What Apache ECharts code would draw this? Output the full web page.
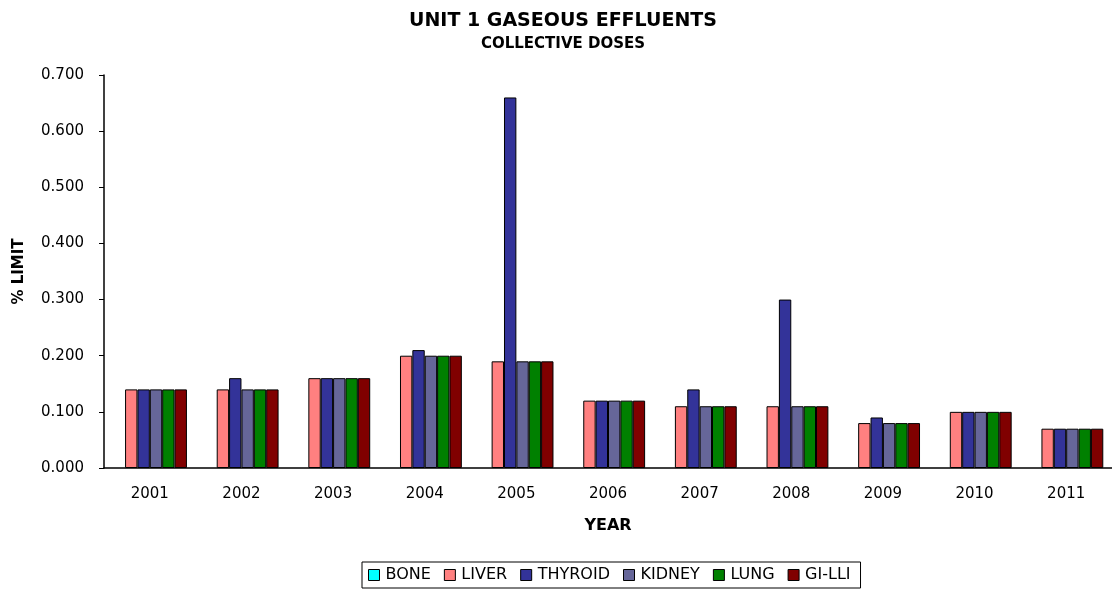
<!DOCTYPE html>
<html>
<head>
<meta charset="utf-8">
<script src="https://cdn.jsdelivr.net/npm/echarts@6/dist/echarts.min.js"></script>
<style>
  html, body { margin: 0; padding: 0; background: #fff; }
  #myChart { width: 1112px; height: 589px; }
</style>
</head>
<body>
<div id="myChart"></div>
<script>
// data
const years = ["2001", "2002", "2003", "2004", "2005", "2006", "2007", "2008", "2009", "2010", "2011"];
const bone    = [0, 0, 0, 0, 0, 0, 0, 0, 0, 0, 0];
const liver   = [0.14, 0.14, 0.16, 0.20, 0.19, 0.12, 0.11, 0.11, 0.08, 0.10, 0.07];
const thyroid = [0.14, 0.16, 0.16, 0.21, 0.66, 0.12, 0.14, 0.30, 0.09, 0.10, 0.07];
const kidney  = [0.14, 0.14, 0.16, 0.20, 0.19, 0.12, 0.11, 0.11, 0.08, 0.10, 0.07];
const lung    = [0.14, 0.14, 0.16, 0.20, 0.19, 0.12, 0.11, 0.11, 0.08, 0.10, 0.07];
const gilli   = [0.14, 0.14, 0.16, 0.20, 0.19, 0.12, 0.11, 0.11, 0.08, 0.10, 0.07];
const yTicks  = [0, 0.1, 0.2, 0.3, 0.4, 0.5, 0.6, 0.7];

const font = "DejaVu Sans, sans-serif";

function bar(name, data, color, border) {
  return {
    name: name,
    type: "bar",
    data: data,
    barGap: "0%",
    barCategoryGap: "19%",
    itemStyle: { color: color, borderColor: "#000", borderWidth: border }
  };
}

let chart = echarts.init(document.getElementById("myChart"));
let option = {
  animation: false,
  title: {
    text: "UNIT 1 GASEOUS EFFLUENTS",
    subtext: "COLLECTIVE DOSES",
    left: 558,
    textAlign: "center",
    top: 7,
    itemGap: 6,
    textStyle: { fontFamily: font, fontSize: 19, fontWeight: "bold", color: "#000" },
    subtextStyle: { fontFamily: font, fontSize: 15, fontWeight: "bold", color: "#000" }
  },
  legend: {
    bottom: 1,
    left: 362,
    icon: "rect",
    itemWidth: 11,
    itemHeight: 11,
    itemGap: 13,
    padding: [5, 10, 5, 6],
    borderColor: "#000",
    borderWidth: 1,
    itemStyle: { borderColor: "#000", borderWidth: 1 },
    textStyle: { fontFamily: font, fontSize: 16, color: "#000", padding: [0, 0, 0, 1] },
    data: ["BONE", "LIVER", "THYROID", "KIDNEY", "LUNG", "GI-LLI"]
  },
  grid: { left: 104, top: 75, width: 1012, height: 393, containLabel: false },
  xAxis: {
    type: "category",
    data: years,
    name: "YEAR",
    nameLocation: "middle",
    nameGap: 50,
    nameTextStyle: { fontFamily: font, fontSize: 16, fontWeight: "bold", color: "#000" },
    axisLine: { lineStyle: { color: "#000", width: 1.5 } },
    axisTick: { inside: true, length: 5, lineStyle: { color: "#000" } },
    axisLabel: { fontFamily: font, fontSize: 15, color: "#000", margin: 19 }
  },
  yAxis: {
    type: "value",
    min: yTicks[0],
    max: yTicks[yTicks.length - 1],
    interval: 0.1,
    name: "% LIMIT",
    nameLocation: "middle",
    nameGap: 77,
    nameTextStyle: { fontFamily: font, fontSize: 15, fontWeight: "bold", color: "#000" },
    splitLine: { show: false },
    axisLine: { show: true, lineStyle: { color: "#000", width: 1.5 } },
    axisTick: { show: true, length: 5, lineStyle: { color: "#000" } },
    axisLabel: {
      fontFamily: font, fontSize: 15, color: "#000", margin: 20,
      formatter: function (v) { return v.toFixed(3); }
    }
  },
  series: [
    bar("BONE", bone, "#00FFFF", 0),
    bar("LIVER", liver, "#FF8080", 1),
    bar("THYROID", thyroid, "#333399", 1),
    bar("KIDNEY", kidney, "#666699", 1),
    bar("LUNG", lung, "#008000", 1),
    bar("GI-LLI", gilli, "#800000", 1)
  ]
};
chart.setOption(option);
</script>
</body>
</html>
